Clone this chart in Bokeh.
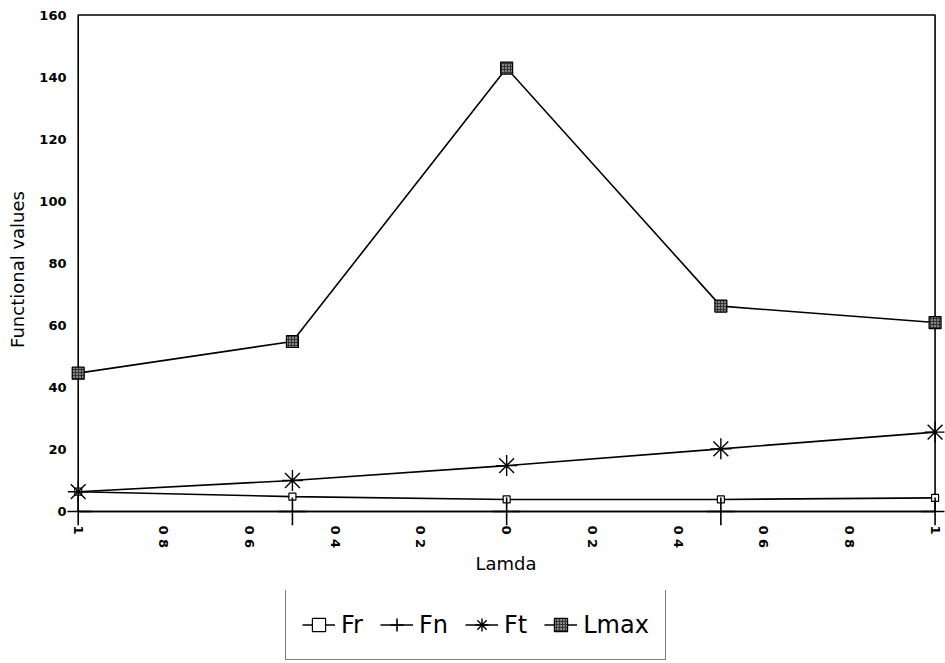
from bokeh.plotting import figure
from bokeh.layouts import column
from bokeh.models import Range1d, FixedTicker, Legend, LegendItem
from bokeh.embed import file_html
from bokeh.resources import INLINE

# Functional values against lamda
lamda = [-1.0, -0.5, 0.0, 0.5, 1.0]
fr = [6.4, 4.8, 3.9, 3.9, 4.4]
fn = [0.0, 0.0, 0.0, 0.0, 0.0]
ft = [6.4, 10.0, 14.8, 20.2, 25.6]
lmax = [44.6, 54.8, 142.9, 66.2, 60.9]

series_names = ["Fr", "Fn", "Ft", "Lmax"]
series_values = [fr, fn, ft, lmax]

x_ticks = [-1.0, -0.8, -0.6, -0.4, -0.2, 0.0, 0.2, 0.4, 0.6, 0.8, 1.0]
x_tick_labels = ["1", "0 8", "0 6", "0 4", "0 2", "0", "0 2", "0 4", "0 6", "0 8", "1"]
y_ticks = [0, 20, 40, 60, 80, 100, 120, 140, 160]

X_LO, X_HI = -1.0, 1.0
Y_LO, Y_HI = 0, 160

FONT = "DejaVu Sans"

# marker styles per series
STYLES = {
    "Fr": dict(marker="square", size=7, fill_color="white", line_color="black", line_width=1.2),
    "Fn": dict(marker="cross", size=28, line_color="black", line_width=1.6),
    "Ft": dict(marker="asterisk", size=21, line_color="black", line_width=1.4),
    "Lmax": dict(marker="square", size=12, fill_color="#333333", hatch_pattern="dot",
                 hatch_color="white", hatch_scale=3, line_color="black", line_width=1.2),
}
LW = 1.6

p = figure(
    frame_width=877, frame_height=512,
    x_range=Range1d(-1.025, 1.022), y_range=Range1d(-4.5, 160.5),
    output_backend="svg", toolbar_location=None,
    min_border_left=67, min_border_right=1, min_border_top=13, min_border_bottom=65,
)
p.outline_line_color = None
p.grid.visible = False
p.background_fill_color = "white"
p.border_fill_color = "white"

p.xaxis.ticker = FixedTicker(ticks=x_ticks)
p.xaxis.major_label_overrides = dict(zip(x_ticks, x_tick_labels))
p.xaxis.major_label_orientation = "vertical"
p.yaxis.ticker = FixedTicker(ticks=y_ticks)

for ax in (p.xaxis, p.yaxis):
    ax.axis_line_color = None
    ax.major_tick_line_color = None
    ax.minor_tick_line_color = None
    ax.major_tick_out = 0
    ax.major_tick_in = 0
    ax.minor_tick_out = 0
    ax.minor_tick_in = 0
    ax.major_label_text_font = FONT
    ax.major_label_text_font_style = "bold"
    ax.major_label_text_font_size = "13px"
    ax.major_label_text_color = "black"
    ax.axis_label_text_font = FONT
    ax.axis_label_text_font_style = "normal"
    ax.axis_label_text_font_size = "18px"
    ax.axis_label_text_color = "black"

p.xaxis.axis_label = "Lamda"
p.yaxis.axis_label = "Functional values"
p.xaxis.major_label_standoff = 0
p.yaxis.major_label_standoff = 1
p.xaxis.axis_label_standoff = 2
p.yaxis.axis_label_standoff = 8

# plotting box: axes at lamda = -1 and value = 0, border at top and right
p.quad(left=[X_LO], right=[X_HI], bottom=[Y_LO], top=[Y_HI],
       fill_color=None, line_color="black", line_width=1.6)

for name, values in zip(series_names, series_values):
    p.line(lamda, values, line_color="black", line_width=LW)
    p.scatter(lamda, values, **STYLES[name])

# legend strip underneath the chart; its y range lies above all values,
# so the series drawn here only supply the legend glyphs
k = figure(
    width=945, height=75, x_range=Range1d(0, 1), y_range=Range1d(1000, 1001),
    output_backend="svg", toolbar_location=None,
    min_border_left=0, min_border_right=0, min_border_top=0, min_border_bottom=0,
)
k.axis.visible = False
k.grid.visible = False
k.outline_line_color = None
k.background_fill_color = "white"
k.border_fill_color = "white"

items = []
for name, values in zip(series_names, series_values):
    rl = k.line(lamda, values, line_color="black", line_width=LW)
    rm = k.scatter(lamda, values, **STYLES[name])
    items.append(LegendItem(label=name, renderers=[rl, rm]))

legend = Legend(
    items=items,
    orientation="horizontal",
    location=(218, 5),
    label_text_font=FONT,
    label_text_font_size="24px",
    label_text_color="black",
    label_standoff=6,
    glyph_width=33,
    glyph_height=37,
    spacing=17,
    padding=16,
    margin=0,
    border_line_color="black",
    border_line_width=1.5,
    background_fill_color="white",
)
k.add_layout(legend, "center")

layout = column(p, k, spacing=0)
open("out.html", "w").write(file_html(layout, INLINE))
